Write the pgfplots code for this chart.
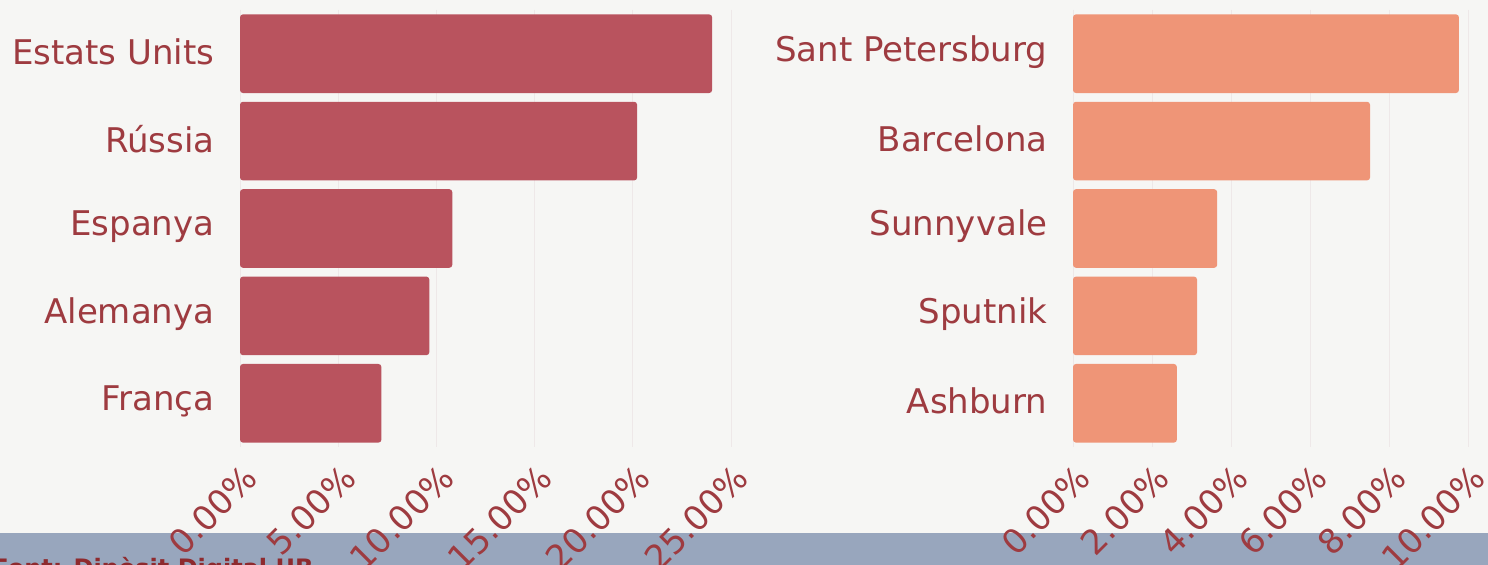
\documentclass[border=0pt]{standalone}
\usepackage{pgfplots}
\pgfplotsset{compat=1.18}
\usepackage{fontspec}
\setmainfont{DejaVu Sans}
\definecolor{bgcol}{HTML}{F6F6F4}
\definecolor{bandcol}{HTML}{98A6BD}
\definecolor{txtcol}{HTML}{9E3B40}
\definecolor{srccol}{HTML}{8E2A2E}
\definecolor{gridcol}{HTML}{EEE8E8}
\definecolor{barA}{HTML}{B9535E}
\definecolor{barB}{HTML}{EF9577}
\pgfplotsset{
  hbars/.style={
    scale only axis,
    xbar, bar width=0.9, bar shift=0pt,
    ymin=-0.5, ymax=4.5, y dir=reverse,
    ytick={0,1,2,3,4},
    xmin=0,
    axis line style={draw=none},
    tick style={draw=none},
    xmajorgrids, grid style={color=gridcol, line width=0.5pt},
    ymajorgrids=false,
    yticklabel style={font=\fontsize{17}{20}\selectfont, text=txtcol, xshift=-5pt, yshift=1pt},
    xticklabel style={font=\fontsize{17}{20}\selectfont, text=txtcol, xshift=1pt, yshift=-3pt, rotate=45, anchor=north east},
  }
}
\begin{document}
\begin{tikzpicture}
\useasboundingbox (0pt,0pt) rectangle (744pt,282.5pt);
\clip (0pt,0pt) rectangle (744pt,282.5pt);
\fill[bgcol] (0pt,0pt) rectangle (744pt,282.5pt);
\fill[bandcol] (0pt,0pt) rectangle (744pt,16pt);
\node[anchor=base west, inner sep=0pt, text=srccol, font=\bfseries\fontsize{12}{14}\selectfont] at (-4pt,-6pt) {Font: Dipòsit Digital UB};
\begin{axis}[hbars,
  at={(120pt,59pt)}, anchor=south west,
  width=245.5pt, height=218.5pt,
  xmax=25,
  xtick={0,5,10,15,20,25},
  xticklabels={0.00\%,5.00\%,10.00\%,15.00\%,20.00\%,25.00\%},
  yticklabels={Estats Units,Rússia,Espanya,Alemanya,França},
]
\addplot[fill=barA, draw=none, rounded corners=1.5pt] coordinates {(24.04,0) (20.22,1) (10.81,2) (9.64,3) (7.2,4)};
\end{axis}
\begin{axis}[hbars,
  at={(536.5pt,59pt)}, anchor=south west,
  width=197.5pt, height=218.5pt,
  xmax=10,
  xtick={0,2,4,6,8,10},
  xticklabels={0.00\%,2.00\%,4.00\%,6.00\%,8.00\%,10.00\%},
  yticklabels={Sant Petersburg,Barcelona,Sunnyvale,Sputnik,Ashburn},
]
\addplot[fill=barB, draw=none, rounded corners=1.5pt] coordinates {(9.77,0) (7.52,1) (3.65,2) (3.14,3) (2.63,4)};
\end{axis}
\end{tikzpicture}
\end{document}
